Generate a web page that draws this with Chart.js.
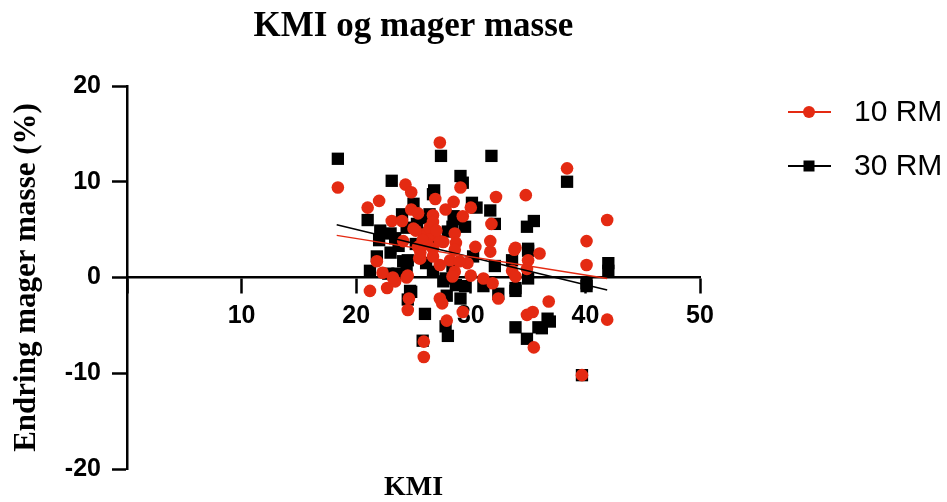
<!DOCTYPE html>
<html>
<head>
<meta charset="utf-8">
<script src="https://cdn.jsdelivr.net/npm/chart.js@4"></script>
<style>
  html, body { margin: 0; padding: 0; background: #fff; }
  #wrap { width: 947px; height: 502px; }
</style>
</head>
<body>
<div id="wrap"><canvas id="chart" width="947" height="502"></canvas></div>
<script>
// 10 RM (red circles)
const kmi10 = [
  18.4, 27.3, 24.3, 24.8, 22.0, 21.0, 23.1, 24.0, 24.8, 25.4,
  26.9, 26.7, 24.1, 25.0, 29.1, 28.5, 27.8, 30.0, 32.2, 34.8,
  31.8, 29.3, 28.6, 26.7, 27.6, 28.7, 30.4, 31.7, 33.9, 21.8,
  22.3, 21.2, 22.7, 23.4, 24.4, 24.6, 24.5, 25.9, 25.9, 25.6,
  31.7, 33.8, 36.0, 35.0, 34.9, 33.6, 33.9, 36.8, 34.9, 35.4,
  35.5, 27.9, 29.3, 27.3, 27.5, 32.4, 31.1, 31.9, 28.2, 27.3,
  28.6, 29.7, 30.0, 38.4, 41.9, 40.1, 40.1, 41.9, 39.7, 25.9,
  26.6, 26.2, 26.7, 25.4, 27.3, 25.5, 26.7, 23.2, 24.5, 28.6,
  28.4, 29.0, 25.2, 25.8, 26.4, 27.0, 25.6
];
const mass10 = [
  9.4, 14.1, 9.7, 8.9, 8.0, 7.3, 5.9, 5.9, 7.1, 6.7,
  8.2, 6.5, 3.8, 5.1, 9.4, 7.9, 7.1, 7.3, 8.4, 8.6,
  5.6, 6.4, 4.6, 5.8, 3.7, 3.6, 3.2, 3.8, 3.1, 1.7,
  0.5, -1.4, -1.1, -0.4, 0.0, -2.2, -3.4, -6.7, -8.3, 2.0,
  2.7, 2.9, 2.5, 1.8, 0.9, 0.7, 0.1, -2.5, -3.9, -3.6,
  -7.3, -4.5, -3.6, -2.2, -2.7, -2.2, -0.1, -0.6, 1.8, 1.3,
  0.6, 1.5, 0.2, 11.4, 6.0, 3.8, 1.3, -4.4, -10.2, 4.5,
  4.4, 3.5, 3.0, 3.2, 3.8, 2.0, 2.2, 0.0, 0.2, 2.9,
  0.1, 1.7, 4.9, 3.9, 5.2, 4.9, 2.6
];

// 30 RM (black squares)
const kmi30 = [
  18.4, 27.4, 23.1, 21.0, 22.1, 25.0, 24.0, 26.8, 23.4, 25.8,
  26.2, 31.8, 29.1, 29.3, 30.1, 30.5, 31.7, 32.1, 28.5, 28.4,
  29.5, 34.9, 35.5, 35.0, 26.7, 21.8, 21.2, 22.8, 24.4, 24.8,
  24.5, 26.0, 25.8, 23.7, 35.0, 33.6, 33.9, 35.0, 33.9, 34.9,
  35.9, 36.7, 27.8, 28.0, 29.1, 31.1, 29.5, 27.8, 30.2, 26.7,
  38.4, 42.0, 42.0, 40.1, 40.1, 36.9, 36.2, 39.7, 32.4, 33.9,
  28.7, 27.6, 24.7, 27.9, 25.2, 22.0, 26.1, 24.5, 25.3, 32.1,
  23.0, 28.4, 24.4, 26.7, 26.4, 28.8, 23.0, 24.1, 23.6, 28.0
];
const mass30 = [
  12.4, 12.7, 10.1, 6.0, 4.9, 7.7, 6.6, 9.1, 4.1, 6.2,
  4.6, 12.7, 10.6, 9.9, 7.8, 7.3, 7.0, 5.6, 6.4, 5.3,
  5.3, 5.3, 5.9, 3.0, 4.1, 2.2, 0.7, 0.4, 0.7, -1.5,
  -2.3, -3.8, -6.6, 3.3, 2.8, 1.8, -1.1, -0.1, -5.2, -6.4,
  -5.2, -4.3, -5.1, -6.1, -2.2, -0.9, -0.9, -0.1, 2.2, 0.6,
  10.0, 1.5, 0.7, -0.6, -0.9, -4.6, -5.3, -10.2, -1.7, -1.4,
  -0.8, -0.4, -1.4, -1.9, 3.5, 3.9, 1.5, 1.8, 5.6, 1.2,
  2.6, 1.2, 5.2, 8.7, 6.6, 6.1, 4.6, 1.7, 0.4, 4.8
];

// fitted lines, end points
const fitKmi = [18.3, 41.9];
const fit10 = [4.4, -0.1];
const fit30 = [5.5, -1.3];

const seriesNames = ["10 RM", "30 RM"];
const xTicks = [10, 20, 30, 40, 50];

const RED = "#e42a12";
const BLACK = "#000000";

function toPoints(xs, ys) {
  return xs.map((x, i) => ({ x, y: ys[i] }));
}

// legend drawn by hand: line with marker in the middle, like the original
const sideLegend = {
  id: "sideLegend",
  afterDraw(chart) {
    const ctx = chart.ctx;
    const items = [
      { label: seriesNames[0], color: RED, style: "circle", y: 112 },
      { label: seriesNames[1], color: BLACK, style: "rect", y: 166 }
    ];
    ctx.save();
    items.forEach(it => {
      ctx.strokeStyle = it.color;
      ctx.fillStyle = it.color;
      ctx.lineWidth = 2;
      ctx.beginPath();
      ctx.moveTo(788, it.y);
      ctx.lineTo(831, it.y);
      ctx.stroke();
      if (it.style === "circle") {
        ctx.beginPath();
        ctx.arc(809, it.y, 6, 0, Math.PI * 2);
        ctx.fill();
      } else {
        ctx.fillRect(803.5, it.y - 5.5, 11, 11);
      }
      ctx.fillStyle = "#000";
      ctx.font = "30px 'Liberation Sans', Arial, sans-serif";
      ctx.textBaseline = "middle";
      ctx.textAlign = "left";
      ctx.fillText(it.label, 854, it.y + 1);
    });
    ctx.restore();
  }
};

new Chart(document.getElementById("chart"), {
  type: "scatter",
  data: {
    datasets: [
      {
        type: "line",
        data: toPoints(fitKmi, fit10),
        borderColor: RED,
        borderWidth: 1.5,
        pointRadius: 0,
        fill: false,
        order: 0
      },
      {
        type: "line",
        data: toPoints(fitKmi, fit30),
        borderColor: BLACK,
        borderWidth: 1.5,
        pointRadius: 0,
        fill: false,
        order: 0
      },
      {
        label: seriesNames[0],
        data: toPoints(kmi10, mass10),
        pointStyle: "circle",
        pointRadius: 6.3,
        pointBorderWidth: 0,
        backgroundColor: RED,
        borderColor: RED,
        order: 1
      },
      {
        label: seriesNames[1],
        data: toPoints(kmi30, mass30),
        pointStyle: "rect",
        pointRadius: 8.7,
        pointBorderWidth: 0,
        backgroundColor: BLACK,
        borderColor: BLACK,
        order: 2
      }
    ]
  },
  options: {
    responsive: false,
    animation: false,
    layout: { padding: { left: 0, right: 247, top: 0, bottom: 0 } },
    plugins: {
      legend: { display: false },
      tooltip: { enabled: false },
      title: {
        display: true,
        text: "KMI og mager masse",
        color: "#000",
        fullSize: false,
        font: { family: "'Liberation Serif', 'Times New Roman', serif", size: 35, weight: "bold", lineHeight: 1.2 },
        padding: { top: 6, bottom: 38 }
      },
      subtitle: {
        display: true,
        position: "bottom",
        text: "KMI",
        color: "#000",
        fullSize: false,
        font: { family: "'Liberation Serif', 'Times New Roman', serif", size: 28, weight: "bold", lineHeight: 1 },
        padding: { top: 5, bottom: 0 }
      }
    },
    scales: {
      x: {
        type: "linear",
        position: { y: 0 },
        min: 0,
        max: 50,
        afterBuildTicks(scale) {
          scale.ticks = [0].concat(xTicks).map(v => ({ value: v }));
        },
        ticks: {
          color: "#000",
          padding: 9,
          maxRotation: 0,
          font: { family: "'Liberation Sans', Arial, sans-serif", size: 25, weight: "bold" },
          callback: v => (v === 0 ? "" : v)
        },
        grid: {
          drawOnChartArea: false,
          drawTicks: true,
          tickLength: 15,
          tickWidth: 2.5,
          tickColor: "#000"
        },
        border: { display: true, color: "#000", width: 2.5 }
      },
      y: {
        type: "linear",
        position: "left",
        min: -20,
        max: 20,
        afterFit(scale) { scale.width = 127; },
        ticks: {
          stepSize: 10,
          color: "#000",
          padding: 11,
          font: { family: "'Liberation Sans', Arial, sans-serif", size: 25, weight: "bold" }
        },
        grid: {
          drawOnChartArea: false,
          drawTicks: true,
          tickLength: 15,
          tickWidth: 2.5,
          tickColor: "#000"
        },
        border: { display: true, color: "#000", width: 2.5 },
        title: {
          display: true,
          text: "Endring mager masse (%)",
          color: "#000",
          font: { family: "'Liberation Serif', 'Times New Roman', serif", size: 31, weight: "bold", lineHeight: 1 },
          padding: { top: 11, bottom: 0 }
        }
      }
    }
  },
  plugins: [sideLegend]
});
</script>
</body>
</html>
